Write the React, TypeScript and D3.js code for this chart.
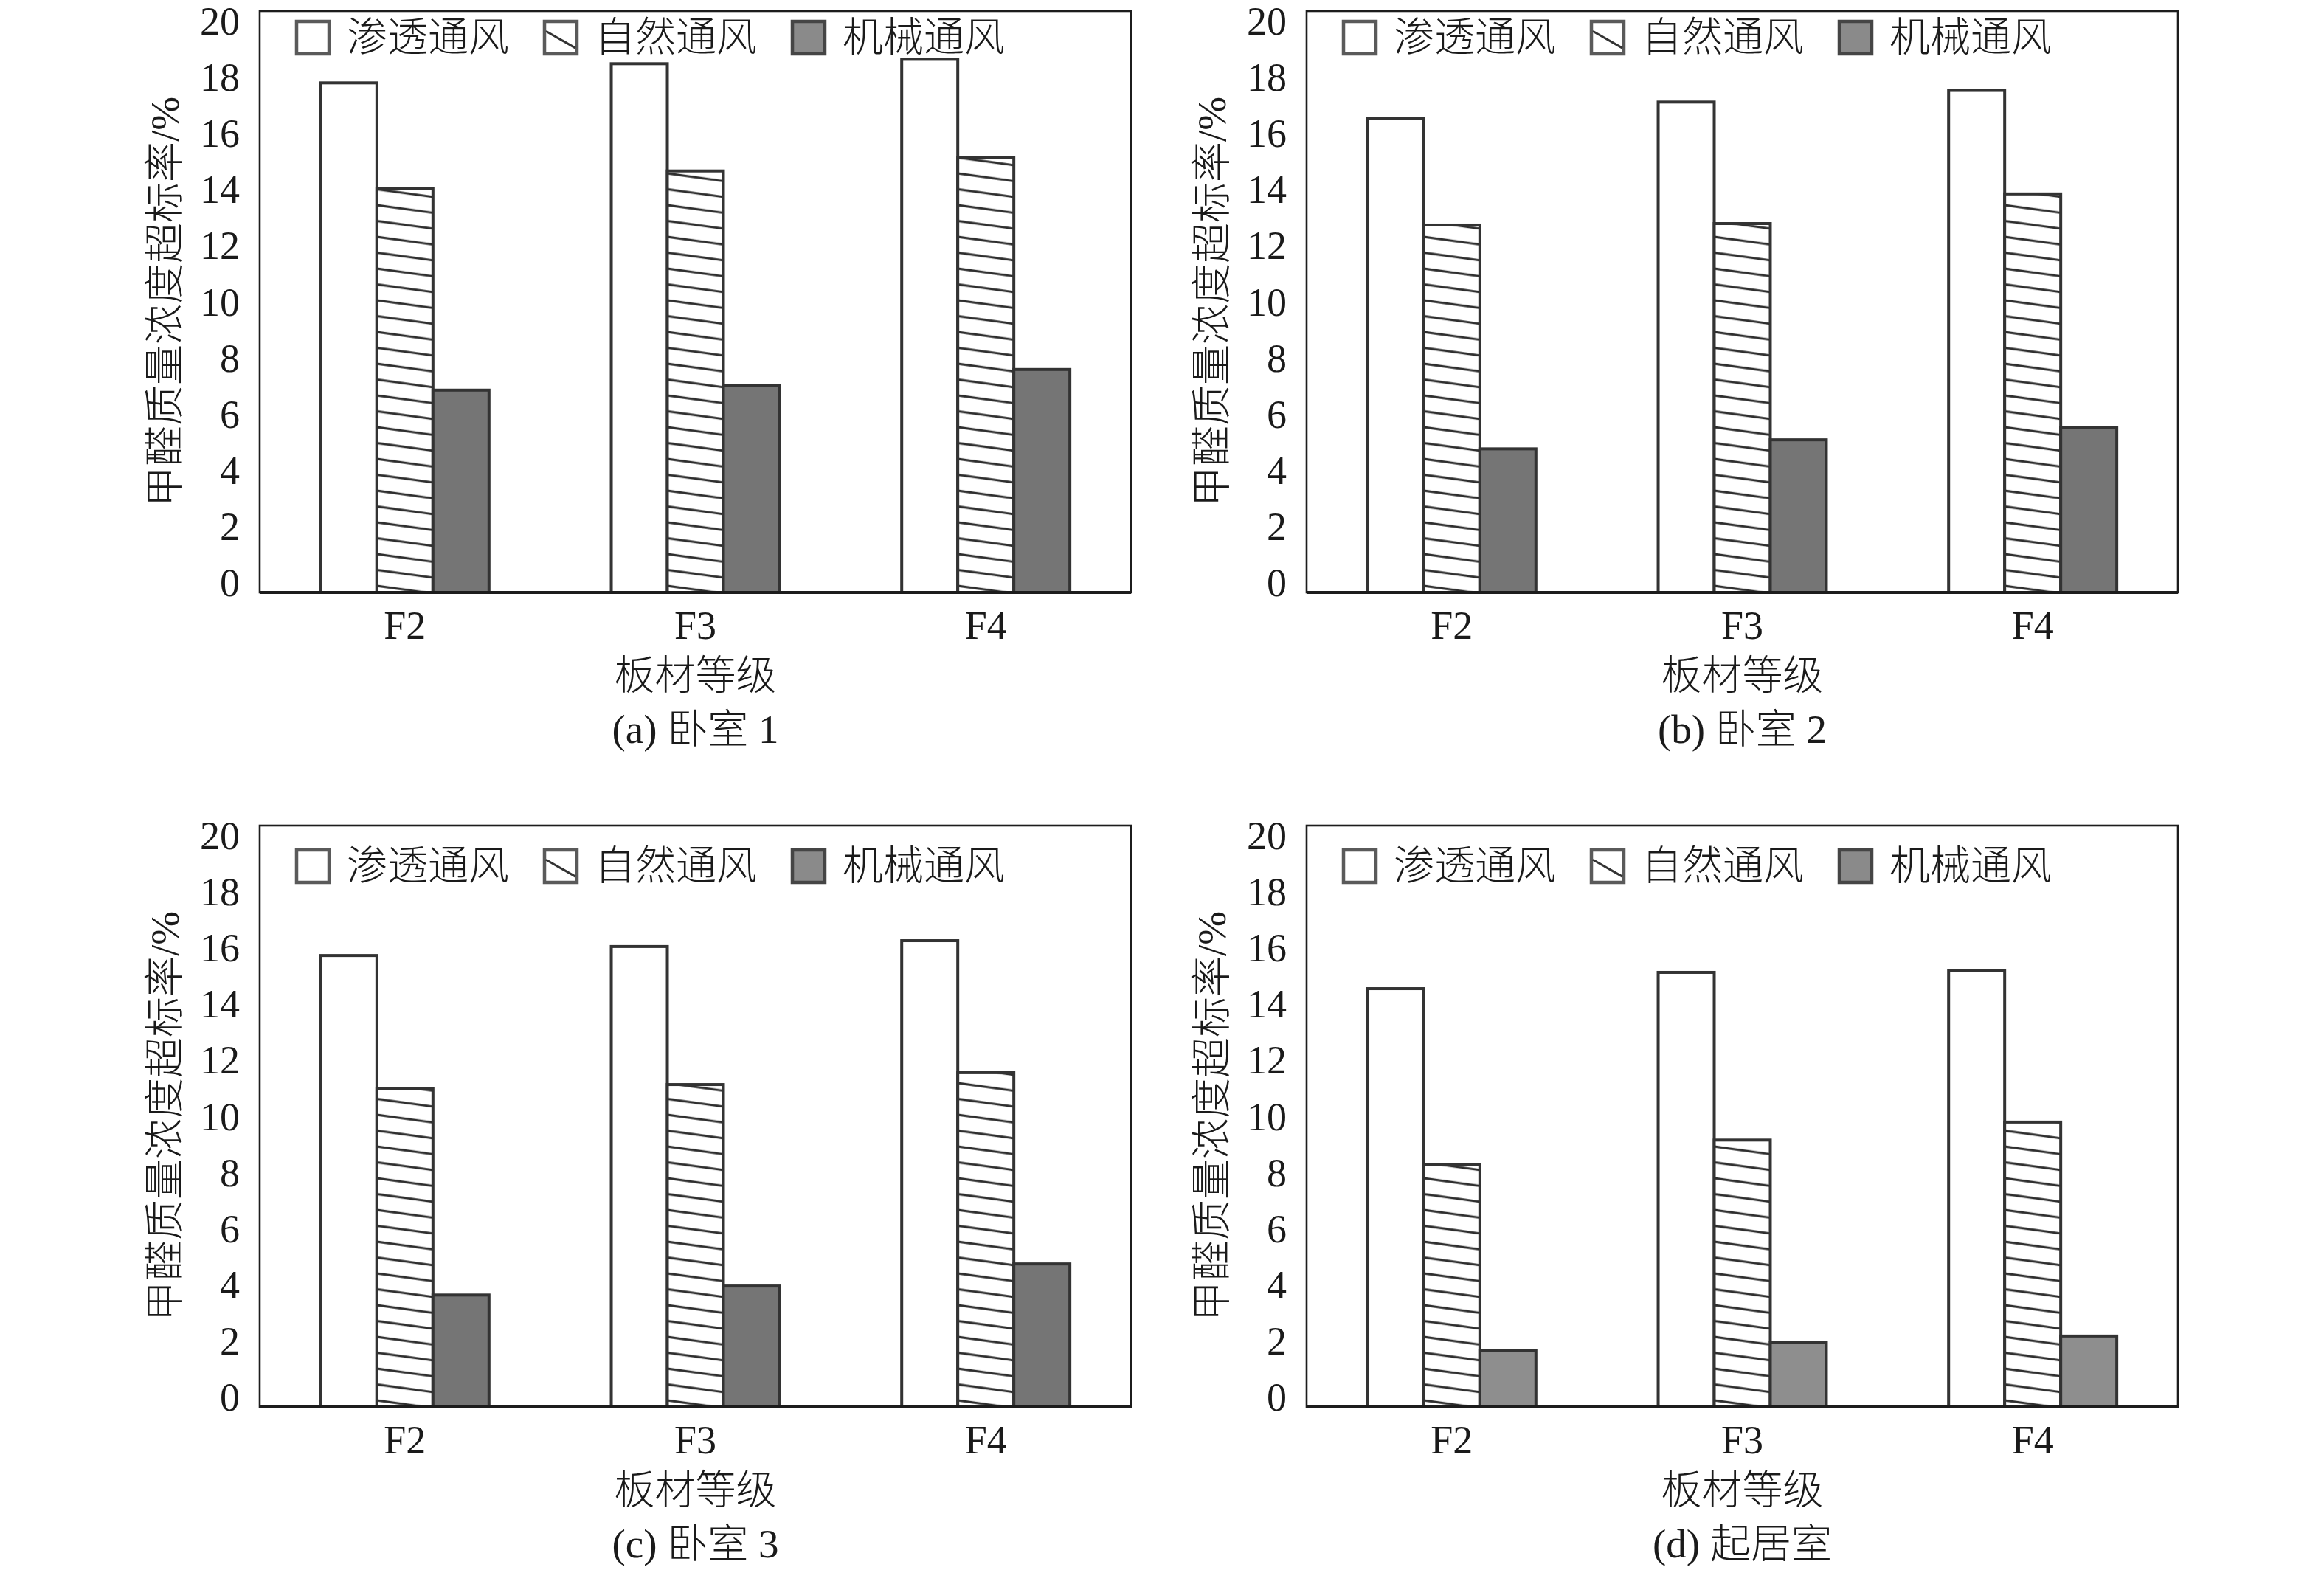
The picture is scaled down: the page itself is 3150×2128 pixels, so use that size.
import React from 'react';
import * as d3 from 'd3';

// ---------- data ----------
const categories = ['F2', 'F3', 'F4'];
const seriesNames = ['渗透通风', '自然通风', '机械通风'];
const yTicks = [0, 2, 4, 6, 8, 10, 12, 14, 16, 18, 20];
const panelTitles = ['(a) 卧室 1', '(b) 卧室 2', '(c) 卧室 3', '(d) 起居室'];
const xAxisTitle = '板材等级';
const yAxisTitle = '甲醛质量浓度超标率/%';

const bedroom1Infiltration = [17.53, 18.19, 18.34];
const bedroom1Natural = [13.9, 14.5, 14.97];
const bedroom1Mechanical = [6.96, 7.12, 7.67];

const bedroom2Infiltration = [16.3, 16.87, 17.27];
const bedroom2Natural = [12.64, 12.69, 13.71];
const bedroom2Mechanical = [4.94, 5.25, 5.66];

const bedroom3Infiltration = [15.53, 15.84, 16.04];
const bedroom3Natural = [10.94, 11.09, 11.5];
const bedroom3Mechanical = [3.85, 4.16, 4.92];

const livingInfiltration = [14.39, 14.95, 15.0];
const livingNatural = [8.35, 9.18, 9.8];
const livingMechanical = [1.94, 2.23, 2.44];

const panelSeries = [
  [bedroom1Infiltration, bedroom1Natural, bedroom1Mechanical],
  [bedroom2Infiltration, bedroom2Natural, bedroom2Mechanical],
  [bedroom3Infiltration, bedroom3Natural, bedroom3Mechanical],
  [livingInfiltration, livingNatural, livingMechanical],
];

// ---------- layout ----------
const W = 3150;
const H = 2128;
const FW = 1181;
const FH = 788;
const layout = [
  { x: 352, y: 15, legendDy: 12, mech: '#757575' },
  { x: 1771, y: 15, legendDy: 12, mech: '#757575' },
  { x: 352, y: 1119, legendDy: 31, mech: '#757575' },
  { x: 1771, y: 1119, legendDy: 31, mech: '#8e8e8e' },
];

const LATIN = "'Liberation Serif', 'Times New Roman', 'Noto Sans CJK SC', serif";
const CJK = "'Liberation Serif', 'Noto Sans CJK SC', serif";
const CJK_WEIGHT = 300;

const x0 = d3.scaleBand<string>().domain(categories).range([0, FW]).paddingInner(0.421).paddingOuter(0.2105);
const x1 = d3.scaleBand<string>().domain(seriesNames).range([0, x0.bandwidth()]);
const y = d3.scaleLinear().domain([0, 20]).range([FH, 0]);
const yLabel = d3.scaleLinear().domain([0, 20]).range([FH - 13, 14]);

const barW = x1.bandwidth();
const HATCH_H = 21.5;

function Legend({ dy }: { dy: number }) {
  const box = 44;
  return (
    <g transform={`translate(0,${dy})`}>
      {seriesNames.map((name, i) => {
        const bx = 50 + i * 336;
        return (
          <g key={name}>
            <rect
              x={bx}
              y={2}
              width={box}
              height={box}
              fill={i === 2 ? '#8a8a8a' : '#ffffff'}
              stroke={i === 2 ? '#454545' : '#5a5a5a'}
              strokeWidth={4.5}
            />
            {i === 1 && (
              <line x1={bx + 2} y1={2 + box * 0.3} x2={bx + box - 2} y2={2 + box * 0.82} stroke="#333" strokeWidth={3} />
            )}
            <text x={bx + 68} y={42} fontFamily={CJK} fontWeight={CJK_WEIGHT} fontSize={55} fill="#1a1a1a">
              {name}
            </text>
          </g>
        );
      })}
    </g>
  );
}

function Panel({ idx }: { idx: number }) {
  const L = layout[idx];
  const series = panelSeries[idx];
  return (
    <g transform={`translate(${L.x},${L.y})`}>
      <rect x={0} y={0} width={FW} height={FH} fill="#fff" />
      {categories.map((cat, ci) => (
        <g key={cat} transform={`translate(${x0(cat)},0)`}>
          {seriesNames.map((s, si) => {
            const v = series[si][ci];
            const bx = x1(s) as number;
            const top = y(v);
            return (
              <g key={s} transform={`translate(${bx},0)`}>
                <rect
                  x={0}
                  y={top}
                  width={barW}
                  height={y(0) - top}
                  fill={si === 0 ? '#ffffff' : si === 1 ? 'url(#hatch)' : L.mech}
                  stroke="#333333"
                  strokeWidth={4}
                />
              </g>
            );
          })}
        </g>
      ))}
      <rect x={0} y={0} width={FW} height={FH} fill="none" stroke="#1c1c1c" strokeWidth={2.6} />
      <line x1={0} x2={FW} y1={FH} y2={FH} stroke="#1c1c1c" strokeWidth={4} />
      <Legend dy={L.legendDy} />
      {yTicks.map((t) => (
        <text key={t} x={-27} y={yLabel(t) + 18} textAnchor="end" fontFamily={LATIN} fontSize={54} fill="#1a1a1a">
          {t}
        </text>
      ))}
      {categories.map((cat) => (
        <text
          key={cat}
          x={(x0(cat) as number) + x0.bandwidth() / 2}
          y={FH + 63}
          textAnchor="middle"
          fontFamily={LATIN}
          fontSize={54}
          fill="#1a1a1a"
        >
          {cat}
        </text>
      ))}
      <text x={FW / 2} y={FH + 131} textAnchor="middle" fontFamily={CJK} fontWeight={CJK_WEIGHT} fontSize={55} fill="#1a1a1a">
        {xAxisTitle}
      </text>
      <text x={FW / 2} y={FH + 204} textAnchor="middle" fontFamily={CJK} fontWeight={CJK_WEIGHT} fontSize={55} fill="#1a1a1a">
        {panelTitles[idx]}
      </text>
      <text
        transform={`translate(-110,${FH / 2}) rotate(-90)`}
        textAnchor="middle"
        fontFamily={CJK}
        fontWeight={CJK_WEIGHT}
        fontSize={55}
        fill="#1a1a1a"
      >
        {yAxisTitle}
      </text>
    </g>
  );
}

export default function App() {
  return (
    <svg
      width={W}
      height={H}
      viewBox={`0 0 ${W} ${H}`}
      style={{ position: 'absolute', left: 0, top: 0, background: '#fff' }}
    >
      <defs>
        <pattern id="hatch" patternUnits="userSpaceOnUse" width={barW} height={HATCH_H}>
          <rect x={0} y={0} width={barW} height={HATCH_H} fill="#fff" />
          <line x1={0} y1={5} x2={barW} y2={5 + barW * 0.137} stroke="#2e2e2e" strokeWidth={3} />
        </pattern>
      </defs>
      <rect x={0} y={0} width={W} height={H} fill="#fff" />
      {layout.map((_, i) => (
        <Panel key={i} idx={i} />
      ))}
    </svg>
  );
}
